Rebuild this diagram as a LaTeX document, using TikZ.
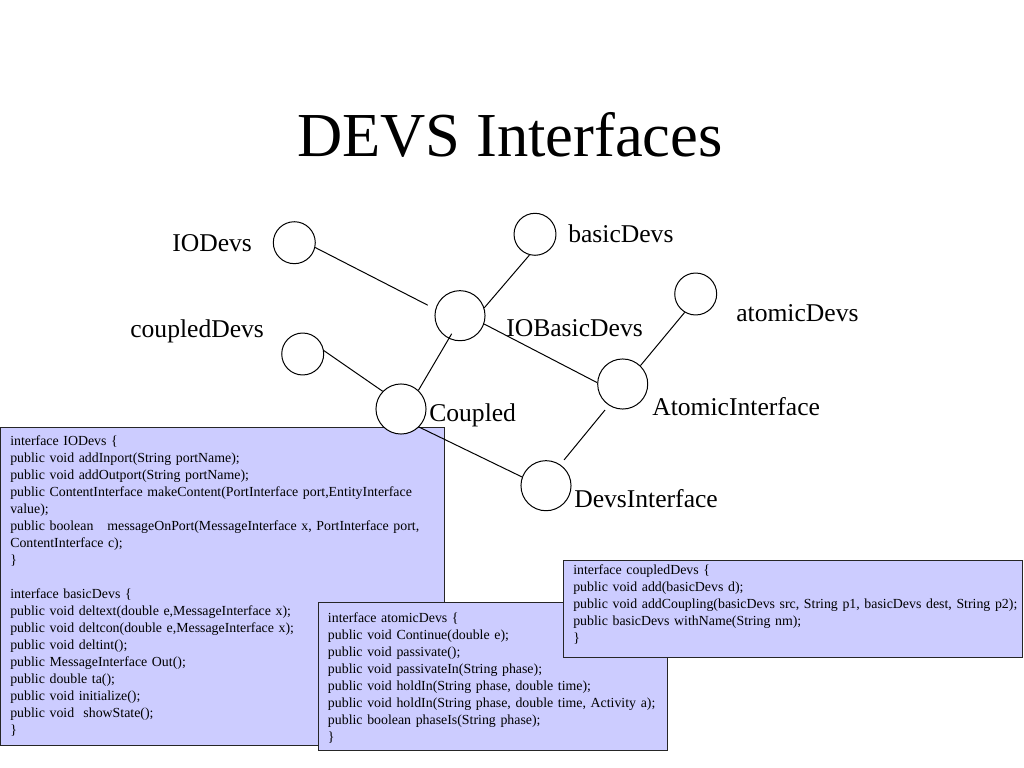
\documentclass[tikz,border=0pt]{standalone}
\usepackage{fontspec}
\setmainfont{Liberation Serif}
\definecolor{ifacefill}{RGB}{204,204,255}

\begin{document}
\begin{tikzpicture}[
        x=0.703125pt, y=-0.703125pt,
        heading/.style={font=\fontsize{44}{52}\selectfont, anchor=base},
        devsname/.style={font=\fontsize{18}{21.6}\selectfont, anchor=base west, inner sep=0pt},
        smallnode/.style={draw, circle, fill=white, line width=0.7pt, minimum size=29.5pt, inner sep=0pt},
        bignode/.style={draw, circle, fill=white, line width=0.7pt, minimum size=35.2pt, inner sep=0pt},
        link/.style={line width=0.7pt},
        ifacebox/.style={draw=black!85, fill=ifacefill, line width=0.7pt, anchor=north west, inner sep=0pt},
        code/.style={font=\fontsize{9.75}{11.95}\selectfont, anchor=base west, inner sep=0pt,
                     align=left, text width=400pt}
    ]
        \useasboundingbox (0,0) rectangle (1024,768);

        \node[heading] (title) at (510,157) {DEVS Interfaces};

        \node[ifacebox, minimum width=311.5pt, minimum height=223.6pt] (ioboxx) at (0.5,427) {};
        \node[code] (iotext) at (10,445.7) {interface IODevs \{\\
              public void addInport(String portName);\\
              public void addOutport(String portName);\\
              public ContentInterface makeContent(PortInterface port,EntityInterface\\
              value);\\
              public boolean~~~messageOnPort(MessageInterface x, PortInterface port,\\
              ContentInterface c);\\
              \}\\[11.95pt]
              interface basicDevs \{\\
              public void deltext(double e,MessageInterface x);\\
              public void deltcon(double e,MessageInterface x);\\
              public void deltint();\\
              public MessageInterface Out();\\
              public double ta();\\
              public void initialize();\\
              public void~~showState();\\
              \}};

        \node[smallnode] (iodevs) at (294.3,242.7) {};
        \node[smallnode] (basicdevs) at (535,234.3) {};
        \node[smallnode] (coupleddevs) at (302.7,354) {};
        \node[smallnode] (atomicdevs) at (695.7,294) {};
        \node[bignode] (iobasic) at (460,315.7) {};
        \node[bignode] (coupled) at (401,409) {};
        \node[bignode] (atomicint) at (622.7,384) {};
        \node[bignode] (devsint) at (546,485.7) {};

        \node[devsname] (iodevslbl) at (172,252) {IODevs};
        \node[devsname] (basicdevslbl) at (568,243) {basicDevs};
        \node[devsname] (coupleddevslbl) at (130,337) {coupledDevs};
        \node[devsname] (iobasiclbl) at (506,336.7) {IOBasicDevs};
        \node[devsname] (atomicdevslbl) at (736,321.7) {atomicDevs};
        \node[devsname] (coupledlbl) at (429,421.7) {Coupled};
        \node[devsname] (atomicintlbl) at (652,415) {AtomicInterface};
        \node[devsname] (devsintlbl) at (574,507) {DevsInterface};

        \draw[link, shorten >=6pt] (iodevs.-13) -- (iobasic.165);
        \draw[link] (basicdevs.-105) -- (iobasic.18);
        \draw[link, shorten <=-4pt] (iobasic.244) -- (coupled.47);
        \draw[link] (coupleddevs.9) -- (coupled.136);
        \draw[link] (coupled.-45) -- (devsint.160);
        \draw[link] (iobasic.-19) -- (atomicint.177);
        \draw[link] (atomicdevs.239) -- (atomicint.46);
        \draw[link, shorten <=4.2pt, shorten >=4.2pt] (atomicint.237) -- (devsint.56);

        \node[ifacebox, minimum width=245.4pt, minimum height=104.1pt] (atomicbox) at (318,602) {};
        \node[code] (atomictext) at (327.7,622.5) {interface atomicDevs \{\\
              public void Continue(double e);\\
              public void passivate();\\
              public void passivateIn(String phase);\\
              public void holdIn(String phase, double time);\\
              public void holdIn(String phase, double time, Activity a);\\
              public boolean phaseIs(String phase);\\
              \}};

        \node[ifacebox, minimum width=322.7pt, minimum height=68.2pt] (coupledbox) at (563,560) {};
        \node[code] (coupledtext) at (573,574.5) {interface coupledDevs \{\\
              public void add(basicDevs d);\\
              public void addCoupling(basicDevs src, String p1, basicDevs dest, String p2);\\
              public basicDevs withName(String nm);\\
              \}};
    \end{tikzpicture}
\end{document}
